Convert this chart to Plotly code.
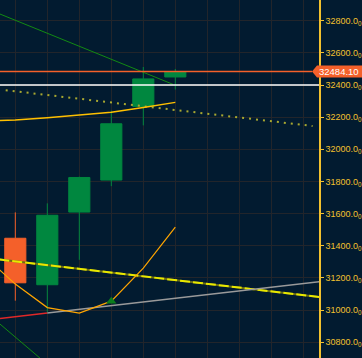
import plotly.graph_objects as go

# ---- data ----
candle_x = [0, 1, 2, 3, 4, 5]
opens = [31447, 31158, 31610, 31809, 32266, 32450]
highs = [31608, 31664, 31830, 32240, 32512, 32500]
lows = [31059, 30989, 31313, 31771, 32149, 32372]
closes = [31170, 31590, 31825, 32159, 32438, 32484.10]

sma_x = [-0.5, 0, 1, 2, 3, 4, 5]
sma_y = [32180, 32182, 32197, 32213, 32230, 32260, 32292]

curve_x = [-0.5, 0, 1, 2, 3, 4, 5]
curve_y = [31252, 31162, 31016, 30982, 31056, 31261, 31516]

green_up_x = [-0.5, 4.93]
green_up_y = [32843, 32404]
green_lo_x = [-0.5, 0.8]
green_lo_y = [30917, 30697]

dotted_x = [-0.3, 9.29]
dotted_y = [32368, 32145]

dashed_x = [-0.5, 9.5]
dashed_y = [31315, 31082]

red_x = [-0.5, 1]
red_y = [30947, 30982]
gray_x = [1, 9.5]
gray_y = [30982, 31177]

signal_x = [3]
signal_y = [31056]

white_level = 32400

tick_vals = [30800, 31000, 31200, 31400, 31600, 31800, 32000, 32200, 32400, 32600, 32800]
tick_text = [f"{v}.0<sub>0</sub>" for v in tick_vals]

y_range = [30702.4, 32928.7]
x_range = [-0.478, 9.49]

BG = "#021b30"
GOLD = "#f2c12e"
ORANGE = "#f4602a"
GREEN = "#00873f"
FONT = "Liberation Sans, Arial, sans-serif"

fig = go.Figure()

def line(x, y, color, width=1.5, dash=None):
    fig.add_trace(go.Scatter(x=x, y=y, mode="lines",
                             line=dict(color=color, width=width, dash=dash),
                             hoverinfo="skip", showlegend=False))

line(green_up_x, green_up_y, "#138a13", 1)
line(green_lo_x, green_lo_y, "#138a13", 1)
line(dotted_x, dotted_y, "#a9a830", 2, "2px,5px")
line(dashed_x, dashed_y, "#6d6d12", 2)
line(dashed_x, dashed_y, "#e8e800", 2, "10px,3px")
line(red_x, red_y, "#e02828", 1.5)
line(gray_x, gray_y, "#9a9a9a", 1.5)
line(sma_x, sma_y, "#ffc000", 1.5)
line(curve_x, curve_y, "#ffa500", 1.2)

fig.add_trace(go.Candlestick(
    x=candle_x, open=opens, high=highs, low=lows, close=closes,
    increasing=dict(line=dict(color=GREEN, width=1), fillcolor=GREEN),
    decreasing=dict(line=dict(color=ORANGE, width=1), fillcolor=ORANGE),
    whiskerwidth=0, hoverinfo="skip", showlegend=False))

fig.add_trace(go.Scatter(x=signal_x, y=signal_y, mode="markers",
                         marker=dict(symbol="triangle-up", size=9, color="#0b7d1c"),
                         hoverinfo="skip", showlegend=False))

last = closes[-1]
plot_w = 319
px_per_unit = 358 / (y_range[1] - y_range[0])
half = 6 / px_per_unit

fig.add_shape(type="line", xref="paper", yref="y", x0=0, x1=1, y0=white_level, y1=white_level,
              line=dict(color="#ffffff", width=1.5))
fig.add_shape(type="line", xref="paper", yref="y", x0=0, x1=312 / plot_w, y0=last, y1=last,
              line=dict(color=ORANGE, width=1.5))
tip = 312 / plot_w
bl = 317 / plot_w
br = 362 / plot_w
fig.add_shape(type="path", xref="paper", yref="y",
              path=f"M {tip} {last} L {bl} {last + half} L {br} {last + half} L {br} {last - half} L {bl} {last - half} Z",
              fillcolor=ORANGE, line=dict(width=0))
fig.add_annotation(xref="paper", yref="y", x=338.5 / plot_w, y=last, text=f"{last:.2f}",
                   showarrow=False, font=dict(family=FONT, size=9.5, color="#ffffff"),
                   xanchor="center", yanchor="middle")

fig.update_layout(
    width=362, height=358,
    margin=dict(l=0, r=43, t=0, b=0),
    paper_bgcolor=BG, plot_bgcolor=BG,
    boxgap=0.34, boxgroupgap=0,
    showlegend=False,
    xaxis=dict(range=x_range, tickmode="array", tickvals=list(range(10)),
               showticklabels=False, showgrid=True, gridcolor="#22252b", gridwidth=1,
               zeroline=False, showline=False, rangeslider=dict(visible=False), fixedrange=True),
    yaxis=dict(range=y_range, side="right", tickmode="array", tickvals=tick_vals, ticktext=tick_text,
               showgrid=True, gridcolor="#22252b", gridwidth=1, zeroline=False,
               showline=True, linecolor=GOLD, linewidth=1.5,
               ticks="outside", ticklen=3, tickcolor=GOLD, automargin=False,
               tickfont=dict(family=FONT, size=9, color=GOLD), fixedrange=True),
)

fig.write_html("out.html", config={"displayModeBar": False},
               post_script="document.body.style.margin='0';document.body.style.overflow='hidden';")
